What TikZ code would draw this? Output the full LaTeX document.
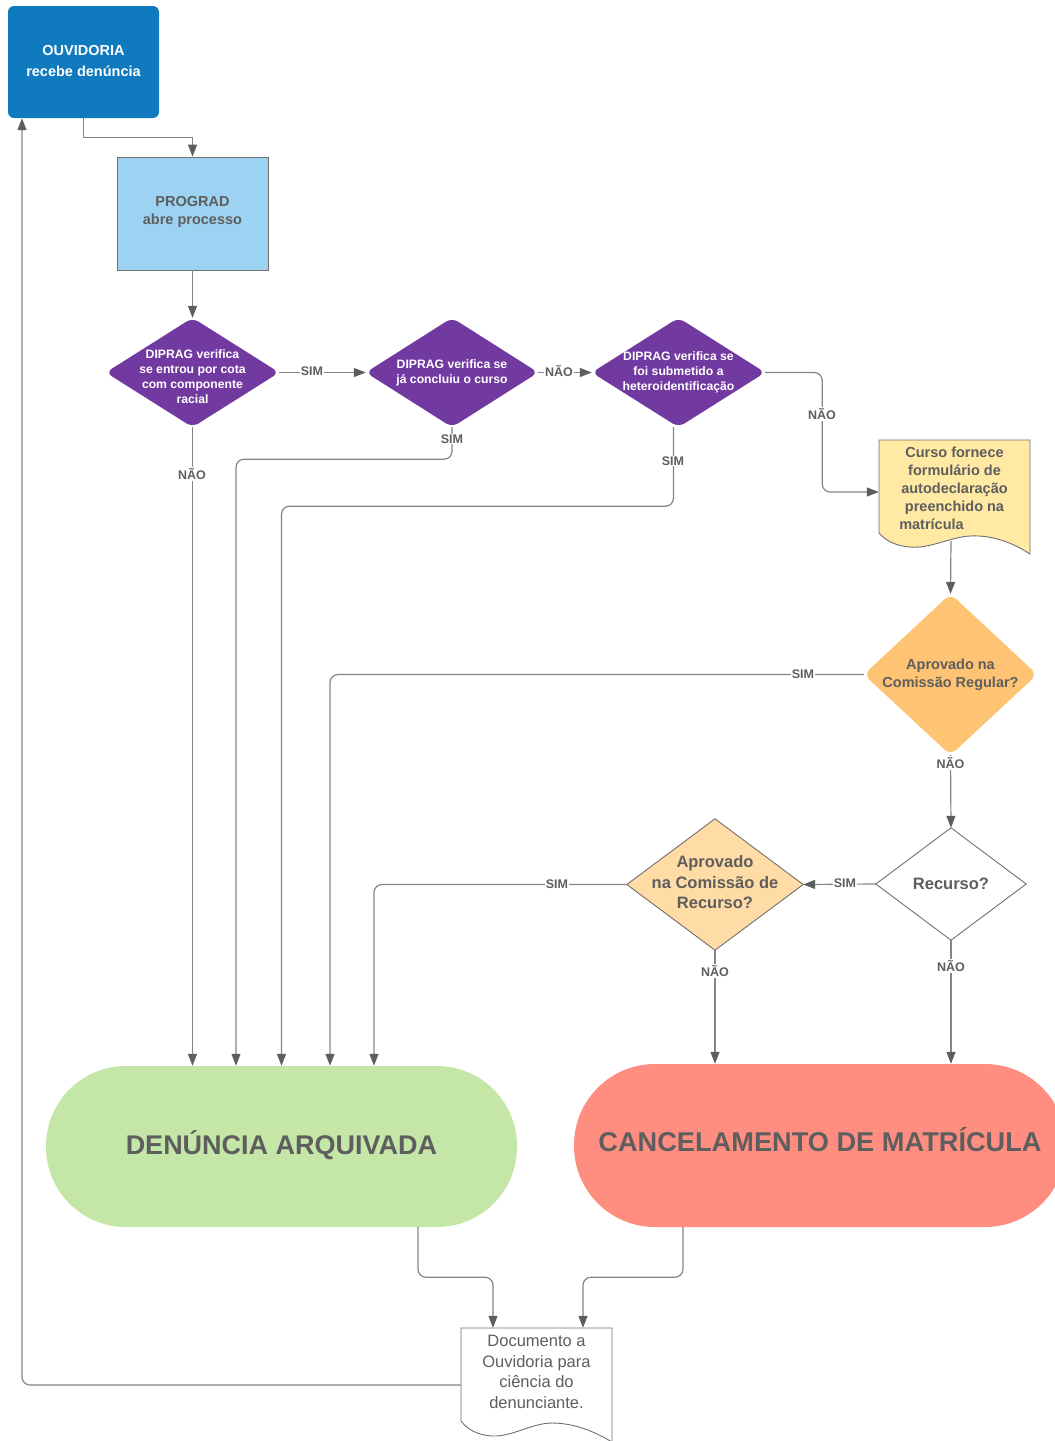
\documentclass[tikz,border=0pt]{standalone}
\usepackage{fontspec}
\setmainfont{Liberation Sans}
\usetikzlibrary{arrows.meta,backgrounds,calc}
\definecolor{ouvblue}{HTML}{0F7ABD}
\definecolor{progblue}{HTML}{9CD2F2}
\definecolor{purp}{HTML}{7239A0}
\definecolor{docyel}{HTML}{FFE9A3}
\definecolor{orangeA}{HTML}{FFC374}
\definecolor{orangeB}{HTML}{FFDBA6}
\definecolor{greenA}{HTML}{C4E6A6}
\definecolor{redA}{HTML}{FF8E80}
\definecolor{txtgray}{HTML}{5E5E5E}
\definecolor{linegray}{HTML}{858585}
\definecolor{bordgray}{HTML}{707070}
\begin{document}
\begin{tikzpicture}[x=1pt,y=-1pt,
  box/.style={inner sep=0pt, align=center},
  conn/.style={draw=linegray, line width=1.2pt, -{Triangle[length=12pt,width=9pt,color=txtgray]}},
  rc/.style={rounded corners=8pt},
  lbl/.style={fill=white, inner sep=1pt, text=txtgray, font=\bfseries\fontsize{12.5}{13}\selectfont},
  dtext/.style={box, text=white, font=\bfseries\fontsize{12.2}{15}\selectfont},
]
\path[use as bounding box] (0,0) rectangle (1055,1441);
\clip (0,0) rectangle (1055,1441);

% top boxes
\node[box, minimum width=151pt, minimum height=112pt, fill=ouvblue, rounded corners=6pt,
  text=white, font=\bfseries\fontsize{14.5}{21}\selectfont] (ouv) at (83.5,62) {OUVIDORIA\\recebe denúncia\rule[-3pt]{0pt}{0pt}};
\node[box, minimum width=151pt, minimum height=113pt, fill=progblue, draw=bordgray, line width=0.8pt,
  text=txtgray, font=\bfseries\fontsize{14.5}{18}\selectfont] (prog) at (192.5,213.5) {PROGRAD\\abre processo\rule[-7pt]{0pt}{0pt}};

% purple diamonds
\node[dtext, minimum width=173pt, minimum height=109pt] (d1) at (192.5,372.5) {\rule{0pt}{16.8pt}DIPRAG verifica\\se entrou por cota\\com componente\\racial};
\node[dtext, minimum width=172pt, minimum height=109pt] (d2) at (452,372.5) {DIPRAG verifica se\\já concluiu o curso};
\node[dtext, minimum width=173pt, minimum height=109pt] (d3) at (678.5,372.5) {DIPRAG verifica se\\foi submetido a\\heteroidentificação};

% orange / white diamonds
\node[box, minimum width=173pt, minimum height=161pt, text=txtgray, font=\bfseries\fontsize{14.5}{18}\selectfont] (d4) at (950.5,674.5) {Aprovado na\\Comissão Regular?};
\node[box, minimum width=150pt, minimum height=112pt, text=txtgray, font=\bfseries\fontsize{16.5}{20}\selectfont] (rec) at (951,884) {Recurso?};
\node[box, minimum width=176pt, minimum height=131pt, text=txtgray, font=\bfseries\fontsize{16.5}{20.5}\selectfont] (d5) at (715,884.5) {Aprovado\\na Comissão de\\Recurso?\rule[-4pt]{0pt}{0pt}};

\begin{pgfonlayer}{background}
  \foreach \n in {d1,d2,d3}
    \fill[purp, rounded corners=7pt] (\n.north) -- (\n.east) -- (\n.south) -- (\n.west) -- cycle;
  \fill[orangeA, rounded corners=8pt] (d4.north) -- (d4.east) -- (d4.south) -- (d4.west) -- cycle;
  \filldraw[fill=white, draw=bordgray, line width=0.9pt] (rec.north) -- (rec.east) -- (rec.south) -- (rec.west) -- cycle;
  \filldraw[fill=orangeB, draw=bordgray, line width=0.9pt] (d5.north) -- (d5.east) -- (d5.south) -- (d5.west) -- cycle;
\end{pgfonlayer}

% document shapes
\filldraw[fill=docyel, draw=bordgray, line width=0.9pt] (879,440) -- (1030,440) -- (1030,554)
  .. controls (1010,541) and (990,535) .. (970,536)
  .. controls (950,537) and (930,549) .. (910,547)
  .. controls (895,546) and (885,540) .. (879,533) -- cycle;
\node[box, minimum width=151pt, minimum height=96pt, text=txtgray, font=\bfseries\fontsize{14.5}{18}\selectfont] (curso) at (954.5,488)
  {Curso fornece\\formulário de\\autodeclaração\\preenchido na\\matrícula\hspace*{46pt}};
\coordinate (cursob) at (951,541);

\filldraw[fill=white, draw=bordgray, line width=0.9pt] (461,1328) -- (612,1328) -- (612,1442)
  .. controls (592,1430) and (572,1423) .. (552,1423)
  .. controls (532,1423) and (512,1437) .. (492,1436)
  .. controls (477,1435) and (467,1429) .. (461,1421) -- cycle;
\node[box, minimum width=151pt, minimum height=88pt, text=txtgray, font=\fontsize{16.5}{20.5}\selectfont] (docf) at (536.5,1372)
  {Documento a\\Ouvidoria para\\ciência do\\denunciante.};

% terminals
\node[box, minimum width=471pt, minimum height=161pt, rounded corners=80pt, fill=greenA, text=txtgray,
  font=\bfseries\fontsize{27}{30}\selectfont] (arq) at (281.5,1146.5) {DENÚNCIA ARQUIVADA\rule[-8pt]{0pt}{0pt}};
\node[box, minimum width=492pt, minimum height=163pt, rounded corners=81pt, fill=redA, text=txtgray,
  font=\bfseries\fontsize{27.2}{30}\selectfont] (canc) at (820,1145.5) {CANCELAMENTO DE MATRÍCULA\rule[-12pt]{0pt}{0pt}};

% connectors
\draw[conn] (ouv.south) -- ++(0,19) -| (prog.north);
\draw[conn] (prog.south) -- (d1.north);
\draw[conn] (d1.east) -- (d2.west);
\draw[conn] (d2.east) -- (d3.west);
\draw[conn, rc] (d3.east) -- ++(57,0) |- ($(curso.west)+(0,4)$);
\draw[conn, rc] ([xshift=-5pt]d3.south) -- ++(0,79) -| (arq.north);
\draw[conn, rc] (d2.south) -- ++(0,32) -| ([xshift=-45.5pt]arq.north);
\draw[conn] (d1.south) -- (d1.south |- arq.north);
\draw[conn, rc] (d4.west) -| ([xshift=48.5pt]arq.north);
\draw[conn, rc] (d5.west) -| ([xshift=92.5pt]arq.north);
\draw[conn] (cursob) -- (d4.north);
\draw[conn] (d4.south) -- (rec.north);
\draw[conn] (rec.west) -- (d5.east);
\draw[conn] (d5.south) -- (d5.south |- canc.north);
\draw[conn] (rec.south) -- (rec.south |- canc.north);
\draw[conn, rc] ([xshift=136.5pt]arq.south) -- ++(0,50) -| ([xshift=-43.5pt]docf.north);
\draw[conn, rc] ([xshift=-137pt]canc.south) -- ++(0,50) -| ([xshift=46.5pt]docf.north);
\draw[conn, rc] ($(docf.west)+(0,13)$) -| ([xshift=-61.5pt]ouv.south);

% labels
\node[lbl] (l1) at (312,371) {SIM};
\node[lbl] (l2) at (559,371) {NÃO};
\node[lbl] (l3) at (452,439) {SIM};
\node[lbl] (l4) at (192,474) {NÃO};
\node[lbl] (l5) at (673,461) {SIM};
\node[lbl] (l6) at (822,414) {NÃO};
\node[lbl] (l7) at (803,674.5) {SIM};
\node[lbl] (l8) at (950.5,763) {NÃO};
\node[lbl] (l9) at (845,883.5) {SIM};
\node[lbl] (l10) at (557,884.5) {SIM};
\node[lbl] (l11) at (715,971) {NÃO};
\node[lbl] (l12) at (951,966) {NÃO};
\end{tikzpicture}
\end{document}
